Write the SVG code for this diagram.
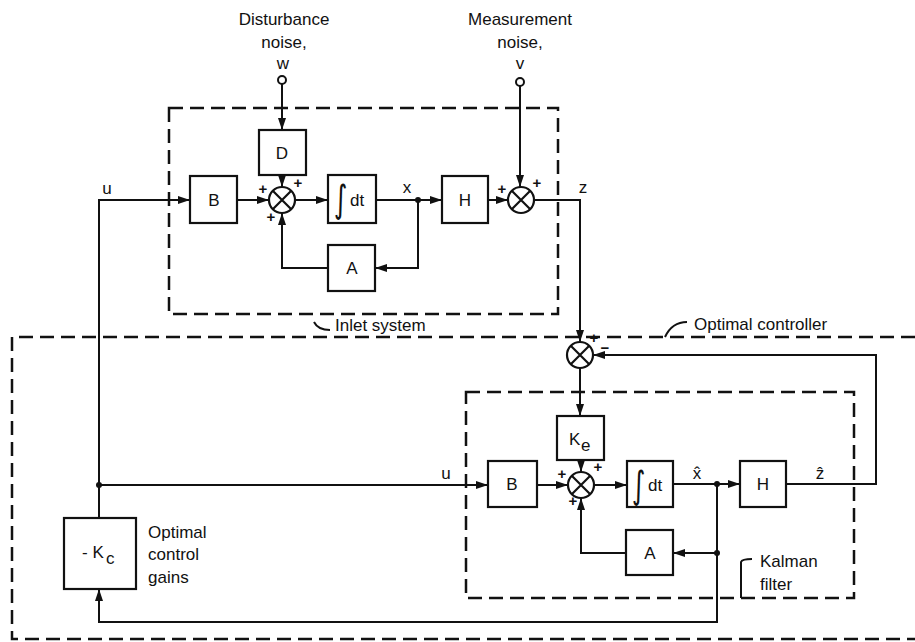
<svg xmlns="http://www.w3.org/2000/svg" width="915" height="642" viewBox="0 0 915 642">
<style>
.box{fill:#fff;stroke:#111;stroke-width:2.2}
.ln{fill:none;stroke:#111;stroke-width:2}
.dash{fill:none;stroke:#111;stroke-width:2.5;stroke-dasharray:14 7}
.t{font-family:"Liberation Sans",Arial,sans-serif;font-size:17px;fill:#111}
.c{text-anchor:middle}
.s{font-family:"Liberation Sans",Arial,sans-serif;font-size:15px;fill:#111;font-weight:bold;text-anchor:middle}
.i{font-family:"DejaVu Sans",sans-serif;font-size:26px;fill:#111}
.sum{fill:#fff;stroke:#111;stroke-width:2.2}
</style>
<defs>
<marker id="ar" markerUnits="userSpaceOnUse" markerWidth="12" markerHeight="8" refX="12" refY="4" orient="auto">
<path d="M0,0 L12,4 L0,8 z" fill="#111"/>
</marker>
<g id="x">
<circle r="13" class="sum"/>
<path d="M-9,-9 L9,9 M-9,9 L9,-9" stroke="#111" stroke-width="2.2"/>
</g>
</defs>
<rect width="915" height="642" fill="#fff"/>

<g id="boundaries">
<path class="dash" d="M169,108 H558 V314 H169 Z"/>
<path class="dash" d="M915,337 H12 V639 H915"/>
<path class="dash" d="M466,392 H854 V598 H466 Z"/>
<path class="ln" d="M314,322 Q318,330 330,330"/>
<path class="ln" d="M665,337 Q672,322 687,322"/>
<path class="ln" d="M741,598 V562 Q742,559 752,559"/>
</g>

<g id="labels">
<text class="t c" x="284" y="25">Disturbance</text>
<text class="t c" x="284" y="48">noise,</text>
<text class="t c" x="283" y="69">w</text>
<text class="t c" x="520" y="25">Measurement</text>
<text class="t c" x="520" y="48">noise,</text>
<text class="t c" x="520" y="69">v</text>
<text class="t" x="335" y="331">Inlet system</text>
<text class="t" x="694" y="330">Optimal controller</text>
<text class="t" x="760" y="567">Kalman</text>
<text class="t" x="760" y="590">filter</text>
<text class="t" x="148" y="538">Optimal</text>
<text class="t" x="148" y="560">control</text>
<text class="t" x="148" y="583">gains</text>
<text class="t c" x="107" y="194">u</text>
<text class="t c" x="407" y="193">x</text>
<text class="t c" x="583" y="193">z</text>
<text class="t c" x="446" y="479">u</text>
<text class="t c" x="697" y="479">x̂</text>
<text class="t c" x="820" y="479">ẑ</text>
</g>

<g id="connectors">
<circle cx="282" cy="80" r="4" fill="#fff" stroke="#111" stroke-width="2"/>
<circle cx="520" cy="82" r="4" fill="#fff" stroke="#111" stroke-width="2"/>
<path class="ln" d="M282,84 V130" marker-end="url(#ar)"/>
<path class="ln" d="M282,175 V187" marker-end="url(#ar)"/>
<path class="ln" d="M237,200 H269" marker-end="url(#ar)"/>
<path class="ln" d="M295,200 H328" marker-end="url(#ar)"/>
<path class="ln" d="M376,200 H442" marker-end="url(#ar)"/>
<path class="ln" d="M488,200 H508" marker-end="url(#ar)"/>
<path class="ln" d="M520,86 V187" marker-end="url(#ar)"/>
<path class="ln" d="M418,200 V268 H375" marker-end="url(#ar)"/>
<path class="ln" d="M328,268 H282 V213" marker-end="url(#ar)"/>
<path class="ln" d="M534,200 H580 V342" marker-end="url(#ar)"/>
<path class="ln" d="M786,484 H876 V355 H593" marker-end="url(#ar)"/>
<path class="ln" d="M580,368 V416" marker-end="url(#ar)"/>
<path class="ln" d="M581,460 V472" marker-end="url(#ar)"/>
<path class="ln" d="M99,485 H488" marker-end="url(#ar)"/>
<path class="ln" d="M537,485 H568" marker-end="url(#ar)"/>
<path class="ln" d="M594,485 H627" marker-end="url(#ar)"/>
<path class="ln" d="M673,484 H740" marker-end="url(#ar)"/>
<path class="ln" d="M717,484 V553 H673" marker-end="url(#ar)"/>
<path class="ln" d="M626,553 H581 V498" marker-end="url(#ar)"/>
<path class="ln" d="M717,553 V622 H99 V589" marker-end="url(#ar)"/>
<path class="ln" d="M99,518 V200 H190" marker-end="url(#ar)"/>
<circle cx="418" cy="200" r="3" fill="#111"/>
<circle cx="717" cy="484" r="3" fill="#111"/>
<circle cx="717" cy="553" r="3" fill="#111"/>
<circle cx="99" cy="485" r="3" fill="#111"/>
</g>

<g id="D"><rect class="box" x="259" y="130" width="47" height="45"/><text class="t c" x="282" y="159">D</text></g>
<g id="B1"><rect class="box" x="190" y="176" width="47" height="47"/><text class="t c" x="214" y="206">B</text></g>
<g id="sum1"><use href="#x" x="282" y="200"/>
<text class="s" x="263" y="194">+</text><text class="s" x="298" y="188">+</text><text class="s" x="271" y="222">+</text></g>
<g id="int1"><rect class="box" x="328" y="175" width="48" height="48"/>
<text class="i" transform="translate(334,212) scale(1,1.45)">∫</text><text class="t" x="350" y="206">dt</text></g>
<g id="H1"><rect class="box" x="442" y="176" width="46" height="47"/><text class="t c" x="465" y="206">H</text></g>
<g id="sum2"><use href="#x" x="521" y="200"/>
<text class="s" x="502" y="194">+</text><text class="s" x="537" y="188">+</text></g>
<g id="A1"><rect class="box" x="328" y="245" width="47" height="46"/><text class="t c" x="352" y="274">A</text></g>

<g id="sum3"><use href="#x" x="580" y="355"/>
<text class="s" x="594" y="343">+</text><text class="s" x="605" y="353">−</text></g>
<g id="Ke"><rect class="box" x="557" y="416" width="47" height="44"/>
<text class="t" x="569" y="445">K</text><text class="t" x="581" y="451" font-size="15">e</text></g>
<g id="sum4"><use href="#x" x="581" y="485"/>
<text class="s" x="562" y="479">+</text><text class="s" x="598" y="472">+</text><text class="s" x="573" y="506">+</text></g>
<g id="B2"><rect class="box" x="488" y="461" width="49" height="46"/><text class="t c" x="512" y="490">B</text></g>
<g id="int2"><rect class="box" x="627" y="461" width="46" height="46"/>
<text class="i" transform="translate(632,498) scale(1,1.45)">∫</text><text class="t" x="648" y="491">dt</text></g>
<g id="H2"><rect class="box" x="740" y="461" width="46" height="46"/><text class="t c" x="763" y="490">H</text></g>
<g id="A2"><rect class="box" x="626" y="530" width="47" height="45"/><text class="t c" x="650" y="559">A</text></g>
<g id="Kc"><rect class="box" x="64" y="518" width="72" height="71"/>
<text class="t" x="82" y="558">- K</text><text class="t" x="106" y="564" font-size="14">c</text></g>
</svg>
